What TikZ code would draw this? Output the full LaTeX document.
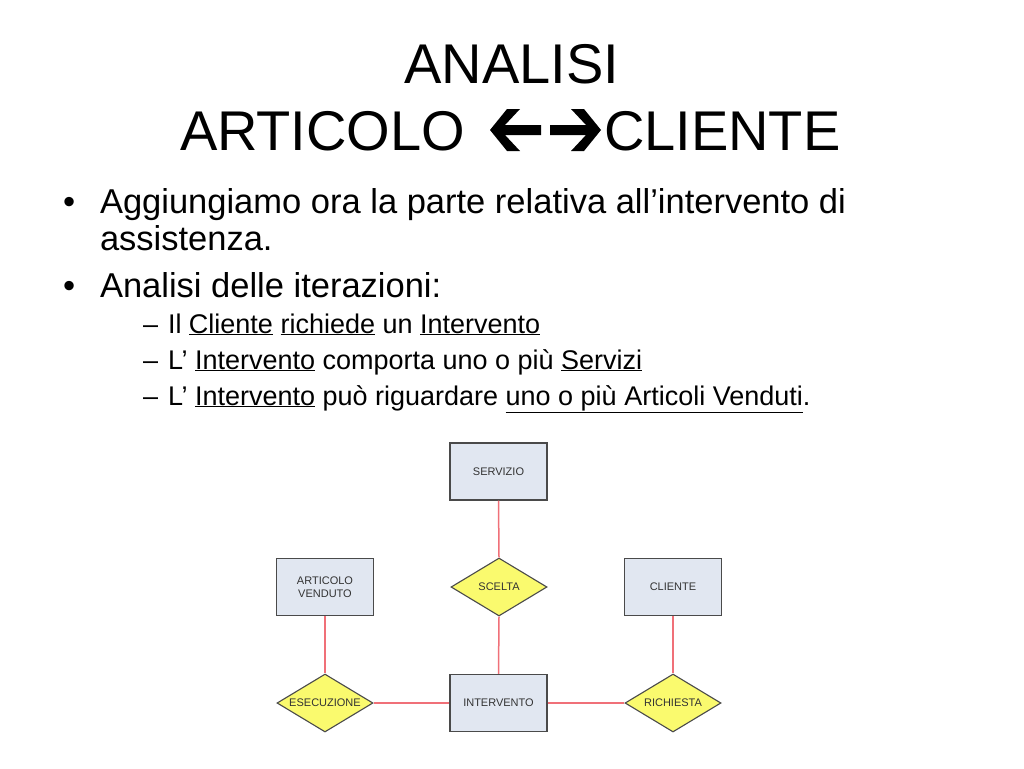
\documentclass[tikz,border=0pt]{standalone}
\usepackage{fontspec}
\setmainfont{Liberation Sans}
\usetikzlibrary{shapes.geometric}
\definecolor{boxfill}{HTML}{E1E7F1}
\definecolor{boxdraw}{HTML}{4A4A4A}
\definecolor{diafill}{HTML}{FAFA6E}
\definecolor{linkred}{HTML}{F07078}
\definecolor{labelgrey}{HTML}{333333}
\begin{document}
\begin{tikzpicture}[x=1pt,y=-1pt,
  txt/.style={inner sep=0pt,outer sep=0pt,anchor=base west},
  titletxt/.style={inner sep=0pt,outer sep=0pt,font=\fontsize{56}{60}\selectfont},
  bodytxt/.style={txt,font=\fontsize{34.5}{40}\selectfont},
  subtxt/.style={txt,font=\fontsize{27}{32}\selectfont},
  entity/.style={draw=boxdraw,fill=boxfill,line width=1.3pt,minimum width=97pt,minimum height=57pt,inner sep=0pt,align=center,text=labelgrey,font=\fontsize{11}{12.5}\selectfont},
  relation/.style={diamond,aspect=1.66,draw=boxdraw,fill=diafill,line width=1.1pt,minimum width=96pt,minimum height=58pt,inner sep=0pt,text=labelgrey,font=\fontsize{11}{12.5}\selectfont},
  link/.style={draw=linkred,line width=1.5pt},
  fatarrow/.style={fill=black,draw=none}]
\useasboundingbox[fill=white] (0,0) rectangle (1024,768);

% title
\node[titletxt,anchor=base] (t1) at (512,83) {ANALISI};
\node[titletxt,anchor=base west] (t2) at (180,150) {ARTICOLO};
\node[titletxt,anchor=base west] (t3) at (604,150) {CLIENTE};
\path[fatarrow] (490,130) -- (507,109) -- (520,109) -- (505,125) -- (541,125) -- (541,135) -- (505,135) -- (520,151) -- (507,151) -- cycle;
\path[fatarrow] (601,130) -- (584,109) -- (571,109) -- (586,125) -- (550,125) -- (550,135) -- (586,135) -- (571,151) -- (584,151) -- cycle;

% body
\node[bodytxt] (b1) at (63,213) {•};
\node[bodytxt] (l1) at (100,213) {Aggiungiamo ora la parte relativa all’intervento di};
\node[bodytxt] (l2) at (100,250) {assistenza.};
\node[bodytxt] (b2) at (63,297) {•};
\node[bodytxt] (l3) at (100,297) {Analisi delle iterazioni:};
\node[subtxt] (d1) at (143,333) {–};
\node[subtxt] (s1) at (168,333) {Il \underline{Cliente} \underline{richiede} un \underline{Intervento}};
\node[subtxt] (d2) at (143,369) {–};
\node[subtxt] (s2) at (168,369) {L’ \underline{Intervento} comporta uno o più \underline{Servizi}};
\node[subtxt] (d3) at (143,405) {–};
\node[subtxt] (s3) at (168,405) {L’ \underline{Intervento} può riguardare \underline{uno o più Articoli Venduti}.};

% diagram
\node[entity] (servizio) at (498.5,471.5) {SERVIZIO};
\node[relation] (scelta) at (499,587) {SCELTA};
\node[entity] (articolo) at (325,587) {ARTICOLO\\VENDUTO};
\node[entity] (cliente) at (673,587) {CLIENTE};
\node[relation] (esecuzione) at (325,703) {ESECUZIONE};
\node[entity] (intervento) at (498.5,703) {INTERVENTO};
\node[relation] (richiesta) at (673,703) {RICHIESTA};

\draw[link] (servizio.south) -- (scelta.north);
\draw[link] (scelta.south) -- (intervento.north);
\draw[link] (articolo.south) -- (esecuzione.north);
\draw[link] (cliente.south) -- (richiesta.north);
\draw[link] (esecuzione.east) -- (intervento.west);
\draw[link] (intervento.east) -- (richiesta.west);
\end{tikzpicture}
\end{document}
